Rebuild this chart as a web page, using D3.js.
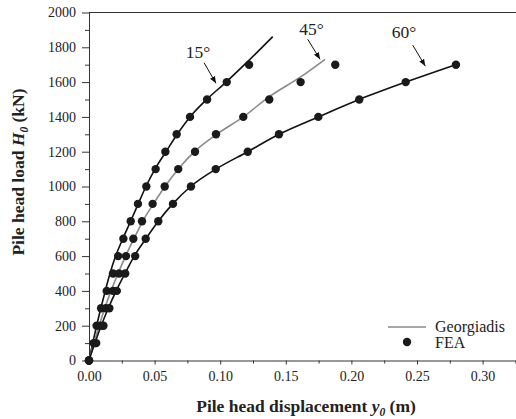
<!DOCTYPE html>
<html>
<head>
<meta charset="utf-8">
<script src="https://cdn.jsdelivr.net/npm/d3@7/dist/d3.min.js"></script>
<style>
  body { margin: 0; background: #fff; }
  svg text { font-family: "Liberation Serif", "Times New Roman", serif; fill: #222; }
</style>
</head>
<body>
<div id="chart-area"></div>
<script>
// FEA loads (kN) and displacements (m)
const feaLoads = [0, 100, 200, 300, 400, 500, 600, 700, 800, 900, 1000, 1100, 1200, 1300, 1400, 1500, 1600, 1700];
const fea15 = [0, 0.0035, 0.0058, 0.0092, 0.0135, 0.0183, 0.0222, 0.0262, 0.0318, 0.0373, 0.0437, 0.0508, 0.0582, 0.0668, 0.0770, 0.0900, 0.1050, 0.1220];
const fea45 = [0, 0.0045, 0.0088, 0.0128, 0.0183, 0.0229, 0.0282, 0.0338, 0.0404, 0.0485, 0.0577, 0.0680, 0.0808, 0.0968, 0.1176, 0.1374, 0.1613, 0.1877];
const fea60 = [0, 0.0055, 0.0110, 0.0155, 0.0212, 0.0276, 0.0352, 0.0432, 0.0528, 0.0640, 0.0777, 0.0966, 0.1210, 0.1448, 0.1748, 0.2060, 0.2414, 0.2797];

// Georgiadis curves
const geo15Load = [0, 100, 200, 300, 400, 500, 600, 700, 800, 900, 1000, 1100, 1200, 1300, 1400, 1500, 1600, 1700, 1861];
const geo15Disp = [0, 0.0028, 0.0058, 0.0090, 0.0124, 0.0160, 0.0203, 0.0258, 0.0317, 0.0375, 0.0434, 0.0503, 0.0587, 0.0672, 0.0770, 0.0897, 0.1045, 0.1185, 0.1400];
const geo45Load = [0, 100, 200, 300, 400, 500, 600, 700, 800, 900, 1000, 1100, 1200, 1300, 1400, 1515, 1631, 1731];
const geo45Disp = [0, 0.0037, 0.0077, 0.0120, 0.0168, 0.0221, 0.0279, 0.0343, 0.0409, 0.0491, 0.0579, 0.0681, 0.0803, 0.0973, 0.1176, 0.1372, 0.1616, 0.1799];
const geo60Load = [0, 100, 200, 300, 400, 500, 600, 700, 800, 900, 1000, 1100, 1200, 1300, 1400, 1500, 1600, 1700];
const geo60Disp = [0, 0.0045, 0.0093, 0.0147, 0.0207, 0.0274, 0.0345, 0.0434, 0.0528, 0.0638, 0.0775, 0.0968, 0.1210, 0.1448, 0.1748, 0.2060, 0.2414, 0.2795];

const xTicks = [0, 0.05, 0.10, 0.15, 0.20, 0.25, 0.30];
const yTicks = [0, 200, 400, 600, 800, 1000, 1200, 1400, 1600, 1800, 2000];

// angle labels: text anchor and arrow, in data units
const angleLabels = ["15°", "45°", "60°"];
const labelPos = [[0.0831, 1738], [0.1696, 1870], [0.2401, 1853]];
const arrowFrom = [[0.0877, 1711], [0.1667, 1846], [0.2467, 1813]];
const arrowTo = [[0.0968, 1593], [0.1761, 1731], [0.2563, 1692]];

const W = 516, H = 419;
const margin = {top: 12.5, left: 89, bottom: 58.5};
const serif = '"Liberation Serif", "Times New Roman", serif';

const svg = d3.select('#chart-area')
  .append('svg')
  .attr('width', W)
  .attr('height', H);

const x = d3.scaleLinear().domain([0, 0.33]).range([margin.left, margin.left + 0.33 * 1312]);
const y = d3.scaleLinear().domain([0, 2000]).range([H - margin.bottom, margin.top]);

// minor ticks
const xMinor = d3.range(0.025, 0.33, 0.05);
const yMinor = d3.range(100, 2000, 200);

svg.append('g')
  .attr('transform', `translate(0, ${y(0)})`)
  .call(d3.axisBottom(x).tickValues(xMinor).tickSize(3).tickFormat(''))
  .call(g => g.select('.domain').remove())
  .selectAll('line').attr('stroke', '#333');

svg.append('g')
  .attr('transform', `translate(${x(0)}, 0)`)
  .call(d3.axisLeft(y).tickValues(yMinor).tickSize(4).tickFormat(''))
  .call(g => g.select('.domain').remove())
  .selectAll('line').attr('stroke', '#333');

const xAxis = svg.append('g')
  .attr('transform', `translate(0, ${y(0)})`)
  .call(d3.axisBottom(x).tickValues(xTicks).tickSize(4).tickPadding(7).tickSizeOuter(0).tickFormat(d3.format('.2f')));
xAxis.attr('font-family', serif).attr('font-size', 14);
xAxis.selectAll('text').attr('fill', '#222');
xAxis.selectAll('line, path').attr('stroke', '#333');

const yAxis = svg.append('g')
  .attr('transform', `translate(${x(0)}, 0)`)
  .call(d3.axisLeft(y).tickValues(yTicks).tickSize(7).tickPadding(6).tickSizeOuter(0).tickFormat(d3.format('d')));
yAxis.attr('font-family', serif).attr('font-size', 14);
yAxis.selectAll('text').attr('fill', '#222');
yAxis.selectAll('line, path').attr('stroke', '#333');

// top frame
svg.append('line')
  .attr('x1', x(0)).attr('x2', W)
  .attr('y1', y(2000)).attr('y2', y(2000))
  .attr('stroke', '#333');

// axis titles
const xt = svg.append('text')
  .attr('x', 306).attr('y', 412)
  .attr('text-anchor', 'middle')
  .style('font-size', '17.5px').style('font-weight', 'bold');
xt.append('tspan').text('Pile head displacement ');
xt.append('tspan').style('font-style', 'italic').text('y');
xt.append('tspan').style('font-style', 'italic').style('font-size', '11.5px').attr('dy', 4).text('0');
xt.append('tspan').attr('dy', -4).text(' (m)');

const yt = svg.append('text')
  .attr('transform', 'translate(24, 172) rotate(-90)')
  .attr('text-anchor', 'middle')
  .style('font-size', '17.5px').style('font-weight', 'bold');
yt.append('tspan').text('Pile head load ');
yt.append('tspan').style('font-style', 'italic').text('H');
yt.append('tspan').style('font-style', 'italic').style('font-size', '11.5px').attr('dy', 4).text('0');
yt.append('tspan').attr('dy', -4).text(' (kN)');

// Georgiadis lines
const line = d3.line()
  .x(d => x(d[0]))
  .y(d => y(d[1]))
  .curve(d3.curveMonotoneX);

const curves = [
  {disp: geo15Disp, load: geo15Load, color: '#111'},
  {disp: geo45Disp, load: geo45Load, color: '#8a8a8a'},
  {disp: geo60Disp, load: geo60Load, color: '#111'}
];

svg.selectAll('.geo')
  .data(curves)
  .enter()
  .append('path')
  .attr('class', 'geo')
  .attr('d', c => line(c.disp.map((v, i) => [v, c.load[i]])))
  .attr('fill', 'none')
  .attr('stroke', c => c.color)
  .attr('stroke-width', 1.6);

// FEA points
const pts = [];
[fea15, fea45, fea60].forEach(s => s.forEach((v, i) => pts.push([v, feaLoads[i]])));

svg.selectAll('.fea')
  .data(pts)
  .enter()
  .append('circle')
  .attr('class', 'fea')
  .attr('cx', d => x(d[0]))
  .attr('cy', d => y(d[1]))
  .attr('r', 4.2)
  .attr('fill', '#1a1a1a');

// arrows
svg.append('defs').append('marker')
  .attr('id', 'arr')
  .attr('viewBox', '0 0 10 10')
  .attr('refX', 10).attr('refY', 5)
  .attr('markerWidth', 7).attr('markerHeight', 7)
  .attr('markerUnits', 'userSpaceOnUse')
  .attr('orient', 'auto')
  .append('path')
  .attr('d', 'M0,1 L10,5 L0,9 Z')
  .attr('fill', '#111');

angleLabels.forEach((lab, i) => {
  svg.append('text')
    .attr('x', x(labelPos[i][0]))
    .attr('y', y(labelPos[i][1]))
    .attr('text-anchor', 'middle')
    .style('font-size', '17.5px')
    .text(lab);
  svg.append('line')
    .attr('x1', x(arrowFrom[i][0])).attr('y1', y(arrowFrom[i][1]))
    .attr('x2', x(arrowTo[i][0])).attr('y2', y(arrowTo[i][1]))
    .attr('stroke', '#111')
    .attr('stroke-width', 1)
    .attr('marker-end', 'url(#arr)');
});

// legend
const lg = svg.append('g');
lg.append('line')
  .attr('x1', 388).attr('x2', 426)
  .attr('y1', 327).attr('y2', 327)
  .attr('stroke', '#8a8a8a').attr('stroke-width', 1.6);
lg.append('text').attr('x', 435).attr('y', 332).style('font-size', '16px').text('Georgiadis');
lg.append('circle').attr('cx', 407).attr('cy', 342).attr('r', 4.2).attr('fill', '#1a1a1a');
lg.append('text').attr('x', 435).attr('y', 348).style('font-size', '16px').text('FEA');
</script>
</body>
</html>
